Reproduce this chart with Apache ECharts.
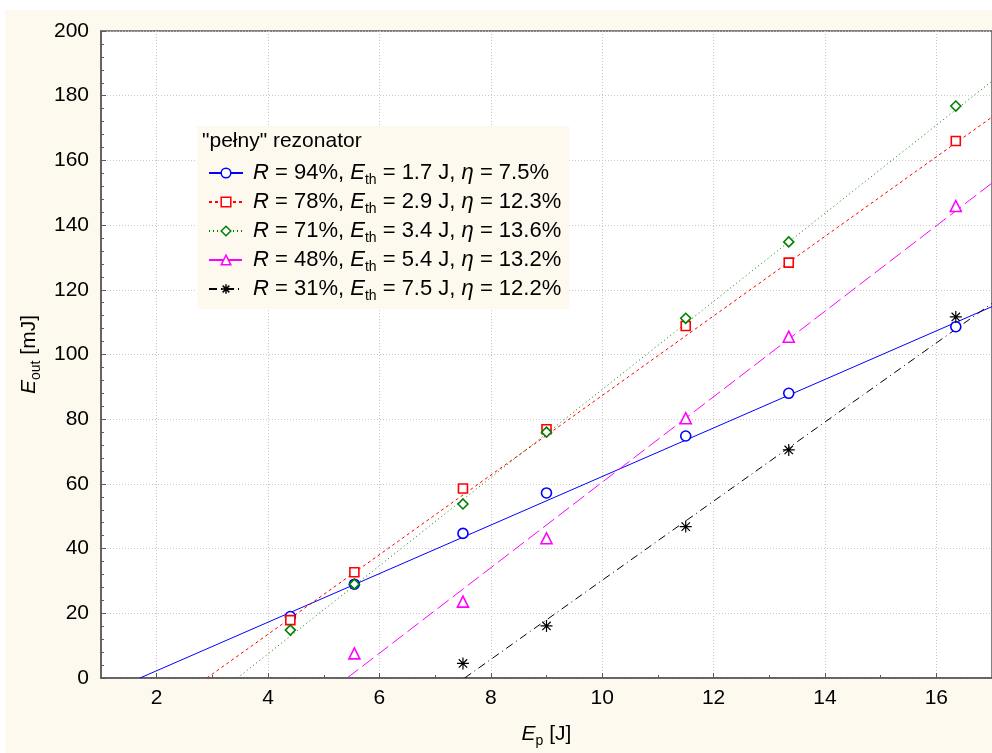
<!DOCTYPE html>
<html>
<head>
<meta charset="utf-8">
<script src="https://cdn.jsdelivr.net/npm/echarts@6/dist/echarts.min.js"></script>
<style>
html,body{margin:0;padding:0;background:#fff;}
#bg{position:absolute;left:5px;top:10px;right:0;bottom:0;background:#fef9ee;}
#chart{position:absolute;left:0;top:0;width:992px;height:753px;}
</style>
</head>
<body>
<div id="bg"></div>
<div id="chart"></div>
<script>
// pump energy [J] of the measured points
var ep = [4.4, 5.55, 7.5, 9.0, 11.5, 13.35, 16.35];
// output energy [mJ] for each mirror
var eR94 = [19, 29, 44.7, 57.2, 74.8, 88, 108.6];
var eR78 = [17.9, 32.7, 58.6, 76.9, 108.8, 128.4, 166];
var eR71 = [14.8, 29, 53.8, 76, 111.2, 134.8, 176.8];
var eR48 = [null, 7.6, 23.6, 43.2, 80.3, 105.5, 145.9];
var eR31 = [null, null, 4.5, 16.1, 46.8, 70.5, 111.6];

// fitted lines, start / end
var fitR94 = [[1.7, 0], [17, 114.8]];
var fitR78 = [[2.9, 0], [17, 173.4]];
var fitR71 = [[3.45, 0], [17, 184.5]];
var fitR48 = [[5.42, 0], [17, 153]];
var fitR31 = [[7.53, 0], [17, 115.8]];

// legend texts
var rValues = ['94%', '78%', '71%', '48%', '31%'];
var ethValues = ['1.7', '2.9', '3.4', '5.4', '7.5'];
var etaValues = ['7.5%', '12.3%', '13.6%', '13.2%', '12.2%'];

var xTicks = [2, 4, 6, 8, 10, 12, 14, 16];
var xMinorTicks = [3, 5, 7, 9, 11, 13, 15];

var measured = [eR94, eR78, eR71, eR48, eR31];
var fits = [fitR94, fitR78, fitR71, fitR48, fitR31];
var names = ['R94', 'R78', 'R71', 'R48', 'R31'];
var colors = ['#0000ff', '#ff0000', '#008000', '#ff00ff', '#000000'];
var symbols = ['circle', 'rect', 'diamond', 'triangle',
    'path://M5,0L5,10M0,5L10,5M1.5,1.5L8.5,8.5M1.5,8.5L8.5,1.5'];
var symbolSizes = [10, 9, 10, 11, 12];
var dashes = ['solid', [3, 3], [1, 3], [14, 5], [8, 4, 1, 4]];

var font = '"Liberation Sans", Arial, sans-serif';

function makeRich(size){
    return {
        n: {fontSize: size, lineHeight: 22, fontFamily: font, color: '#000'},
        i: {fontSize: size, lineHeight: 22, fontFamily: font, fontStyle: 'italic', color: '#000'},
        i0: {fontSize: size, lineHeight: 22, fontFamily: font, fontStyle: 'italic', color: '#000', padding: [0, 0, 0, 5]},
        s: {fontSize: 14, lineHeight: 12, fontFamily: font, color: '#000', padding: [14, 0, 0, 0]}
    };
}

function pairs(xs, ys){
    var out = [];
    for(var k = 0; k < xs.length; k++){
        if(ys[k] != null) out.push([xs[k], ys[k]]);
    }
    return out;
}

var series = [];
// fit lines first so the legend takes its icon from them
for(var k = 0; k < names.length; k++){
    series.push({
        name: names[k],
        type: 'line',
        data: fits[k],
        showSymbol: false,
        symbol: symbols[k],
        symbolSize: symbolSizes[k],
        itemStyle: {color: '#fff', borderColor: colors[k], borderWidth: 1.5},
        lineStyle: {color: colors[k], width: 1, type: dashes[k]},
        silent: true,
        z: 2
    });
}
for(var k = 0; k < names.length; k++){
    series.push({
        name: names[k],
        type: 'scatter',
        data: pairs(ep, measured[k]),
        symbol: symbols[k],
        symbolSize: symbolSizes[k],
        itemStyle: {color: '#fff', borderColor: colors[k], borderWidth: k == 4 ? 1.2 : 1.6, opacity: 1},
        silent: true,
        z: 3
    });
}

var chart = echarts.init(document.getElementById('chart'));
chart.setOption({
    animation: false,
    textStyle: {fontFamily: font},
    title: {
        text: '"pełny" rezonator',
        left: 202,
        top: 131,
        padding: 0,
        textStyle: {fontSize: 21, fontWeight: 'normal', color: '#000', fontFamily: font}
    },
    legend: {
        orient: 'vertical',
        left: 197,
        top: 126,
        padding: [33, 8, 6, 11],
        backgroundColor: '#fef9ee',
        itemWidth: 34,
        itemHeight: 12,
        itemGap: 1,
        selectedMode: false,
        data: names,
        itemStyle: {borderWidth: 1.5},
        formatter: function(name){
            var k = names.indexOf(name);
            return '{i0|R}{n| = ' + rValues[k] + ', }{i|E}{s|th}{n| = ' + ethValues[k] +
                ' J, }{i|η}{n| = ' + etaValues[k] + '}';
        },
        textStyle: {rich: makeRich(22)}
    },
    grid: {
        left: 101,
        top: 31,
        right: -6,
        bottom: 75,
        show: true,
        backgroundColor: '#fff',
        borderColor: '#5a5a5a',
        borderWidth: 1.5
    },
    xAxis: [{
        type: 'value',
        min: 1,
        max: 17,
        splitNumber: 8,
        name: '{i|E}{s|p}{n| [J]}',
        nameLocation: 'middle',
        nameGap: 45,
        nameTextStyle: {rich: makeRich(21)},
        axisLine: {onZero: false, lineStyle: {color: '#5a5a5a', width: 1.5}},
        axisTick: {inside: true, length: 5, customValues: xTicks, lineStyle: {color: '#5a5a5a'}},
        axisLabel: {customValues: xTicks, margin: 10, fontSize: 21, color: '#000', fontFamily: font},
        splitLine: {show: true, lineStyle: {color: '#c8c8c8', type: [1, 2]}}
    }, {
        // minor ticks on odd values
        type: 'value',
        min: 1,
        max: 17,
        position: 'bottom',
        axisLine: {show: false},
        axisTick: {inside: true, length: 3, customValues: xMinorTicks, lineStyle: {color: '#5a5a5a'}},
        axisLabel: {show: false},
        splitLine: {show: false}
    }],
    yAxis: {
        type: 'value',
        min: 0,
        max: 200,
        interval: 20,
        name: '{i|E}{s|out}{n| [mJ]}',
        nameLocation: 'middle',
        nameGap: 59,
        nameTextStyle: {rich: makeRich(21)},
        axisLine: {lineStyle: {color: '#5a5a5a', width: 1.5}},
        axisTick: {inside: true, length: 5, lineStyle: {color: '#5a5a5a'}},
        minorTick: {show: true, splitNumber: 5, length: 3, lineStyle: {color: '#5a5a5a'}},
        axisLabel: {margin: 12, fontSize: 21, color: '#000', fontFamily: font},
        splitLine: {show: true, lineStyle: {color: '#c8c8c8', type: [1, 2]}}
    },
    series: series
});
</script>
</body>
</html>
